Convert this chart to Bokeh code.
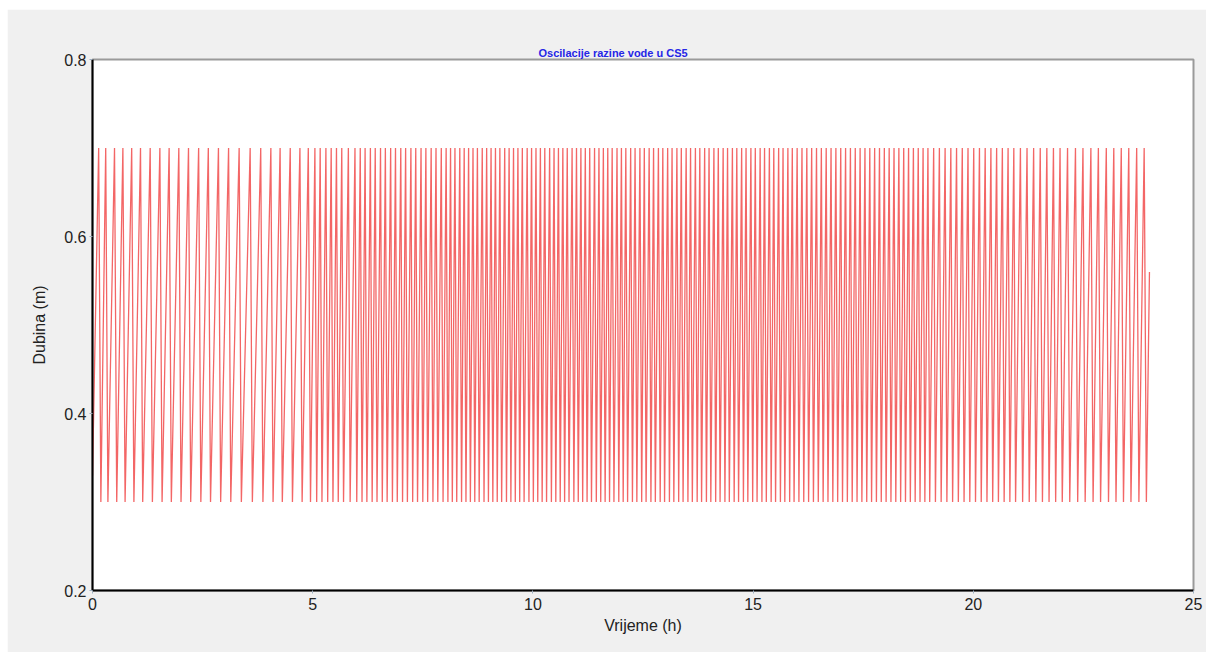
from bokeh.plotting import figure
from bokeh.models import Range1d, FixedTicker
from bokeh.embed import file_html
from bokeh.resources import INLINE

# ---- data (hours, metres) ----
start_point = (0.0, 0.33)
end_point = (24.0, 0.56)
peak_level = 0.70
trough_level = 0.30

peak_times = [
    0.14, 0.30, 0.50, 0.69, 0.89, 1.09, 1.31, 1.53, 1.74, 1.96, 2.18, 2.41, 2.63, 2.86, 3.09, 3.33,
    3.58, 3.82, 4.05, 4.26, 4.49, 4.71, 4.90, 5.05, 5.17, 5.30, 5.42, 5.54, 5.66, 5.81, 5.96,
    6.08, 6.19, 6.31, 6.42, 6.54, 6.65, 6.77, 6.88, 7.00, 7.11, 7.23, 7.34, 7.46, 7.57, 7.69, 7.80, 7.92, 8.03,
    8.13, 8.23, 8.34, 8.44, 8.54, 8.64, 8.74, 8.85, 8.95, 9.05, 9.15, 9.25, 9.36, 9.46, 9.56, 9.66, 9.76, 9.87,
    9.97, 10.07, 10.17, 10.27, 10.38, 10.48, 10.58, 10.68, 10.78, 10.89, 10.99, 11.09, 11.19, 11.29, 11.40,
    11.50, 11.60, 11.70, 11.80, 11.91, 12.01,
    12.11, 12.22, 12.32, 12.43, 12.53, 12.64, 12.74, 12.85, 12.95, 13.06, 13.16, 13.27, 13.37, 13.48, 13.58,
    13.69, 13.79, 13.90, 14.00, 14.11, 14.21, 14.32, 14.42, 14.53, 14.63, 14.74, 14.84, 14.95, 15.05, 15.16,
    15.26, 15.37, 15.47, 15.58, 15.68, 15.79, 15.89, 16.00,
    16.11, 16.22, 16.33, 16.44, 16.55, 16.66, 16.77, 16.88, 16.99, 17.10, 17.21, 17.32, 17.43, 17.54, 17.65,
    17.76, 17.87, 17.98, 18.09, 18.20, 18.31, 18.42, 18.53, 18.64, 18.75, 18.86, 18.97,
    19.10, 19.23, 19.36, 19.49, 19.62, 19.75, 19.88, 20.01, 20.14, 20.27, 20.40, 20.53, 20.66, 20.79, 20.92,
    21.07, 21.22, 21.37, 21.52, 21.67, 21.82, 21.97,
    22.14, 22.32, 22.49, 22.67, 22.84, 23.02, 23.19, 23.36, 23.53, 23.71, 23.88,
]

trough_times = [
    0.19, 0.35, 0.55, 0.74, 0.94, 1.14, 1.36, 1.58, 1.79, 2.01, 2.23, 2.46, 2.68, 2.91, 3.14, 3.38,
    3.63, 3.87, 4.10, 4.31, 4.54, 4.76, 4.95, 5.09, 5.21, 5.34, 5.46, 5.58, 5.70, 5.85, 6.00,
    6.12, 6.23, 6.35, 6.46, 6.58, 6.69, 6.81, 6.92, 7.04, 7.15, 7.27, 7.38, 7.50, 7.61, 7.73, 7.84, 7.96, 8.07,
    8.17, 8.27, 8.38, 8.48, 8.58, 8.68, 8.78, 8.89, 8.99, 9.09, 9.19, 9.29, 9.40, 9.50, 9.60, 9.70, 9.80, 9.91,
    10.01, 10.11, 10.21, 10.31, 10.42, 10.52, 10.62, 10.72, 10.82, 10.93, 11.03, 11.13, 11.23, 11.33, 11.44,
    11.54, 11.64, 11.74, 11.84, 11.95, 12.05,
    12.15, 12.26, 12.36, 12.47, 12.57, 12.68, 12.78, 12.89, 12.99, 13.10, 13.20, 13.31, 13.41, 13.52, 13.62,
    13.73, 13.83, 13.94, 14.04, 14.15, 14.25, 14.36, 14.46, 14.57, 14.67, 14.78, 14.88, 14.99, 15.09, 15.20,
    15.30, 15.41, 15.51, 15.62, 15.72, 15.83, 15.93, 16.04,
    16.15, 16.26, 16.37, 16.48, 16.59, 16.70, 16.81, 16.92, 17.03, 17.14, 17.25, 17.36, 17.47, 17.58, 17.69,
    17.80, 17.91, 18.02, 18.13, 18.24, 18.35, 18.46, 18.57, 18.68, 18.79, 18.90, 19.01,
    19.14, 19.27, 19.40, 19.53, 19.66, 19.79, 19.92, 20.05, 20.18, 20.31, 20.44, 20.57, 20.70, 20.83, 20.96,
    21.12, 21.27, 21.42, 21.57, 21.72, 21.87, 22.02,
    22.19, 22.37, 22.54, 22.72, 22.89, 23.07, 23.24, 23.41, 23.58, 23.76, 23.93,
]

x_ticks = [0, 5, 10, 15, 20, 25]
y_ticks = [0.2, 0.4, 0.6, 0.8]

# ---- build the line from the read points ----
xs = [start_point[0]]
ys = [start_point[1]]
for tp, tt in zip(peak_times, trough_times):
    xs += [tp, tt]
    ys += [peak_level, trough_level]
xs.append(end_point[0])
ys.append(end_point[1])

FONT = "Liberation Sans"

p = figure(
    width=1199, height=643,
    frame_width=1101, frame_height=531,
    min_border_left=85, min_border_right=13, min_border_top=50, min_border_bottom=62,
    x_range=Range1d(0, 25), y_range=Range1d(0.2, 0.8),
    output_backend="svg", toolbar_location=None,
    title="Oscilacije razine vode u CS5",
)
p.margin = (9, 0, 0, 7)
p.border_fill_color = "#f0f0f0"
p.background_fill_color = "white"
p.outline_line_color = "#9a9a9a"
p.outline_line_width = 2
p.xgrid.visible = False
p.ygrid.visible = False

p.title.text_font = FONT
p.title.text_font_size = "11px"
p.title.text_font_style = "bold"
p.title.text_color = "#2626e6"
p.title.align = "left"
p.title.offset = 446
p.title.standoff = 2

p.line(xs, ys, line_color="#f04040", line_width=1.3, line_alpha=0.8)

for ax in (p.xaxis[0], p.yaxis[0]):
    ax.axis_line_color = "black"
    ax.axis_line_width = 2
    ax.major_tick_line_color = "#9fb0c0"
    ax.major_tick_out = 3
    ax.major_tick_in = 0
    ax.minor_tick_line_color = None
    ax.major_label_text_font = FONT
    ax.major_label_text_font_size = "16px"
    ax.major_label_text_color = "#222222"
    ax.axis_label_text_font = FONT
    ax.axis_label_text_font_size = "16px"
    ax.axis_label_text_font_style = "normal"
    ax.axis_label_text_color = "#222222"

p.xaxis.ticker = FixedTicker(ticks=x_ticks)
p.yaxis.ticker = FixedTicker(ticks=y_ticks)
p.xaxis.axis_label = "Vrijeme (h)"
p.yaxis.axis_label = "Dubina (m)"
p.xaxis.major_label_standoff = 4
p.xaxis.axis_label_standoff = 4
p.yaxis.major_label_standoff = 3
p.yaxis.axis_label_standoff = 13

open("out.html", "w").write(file_html(p, INLINE))
